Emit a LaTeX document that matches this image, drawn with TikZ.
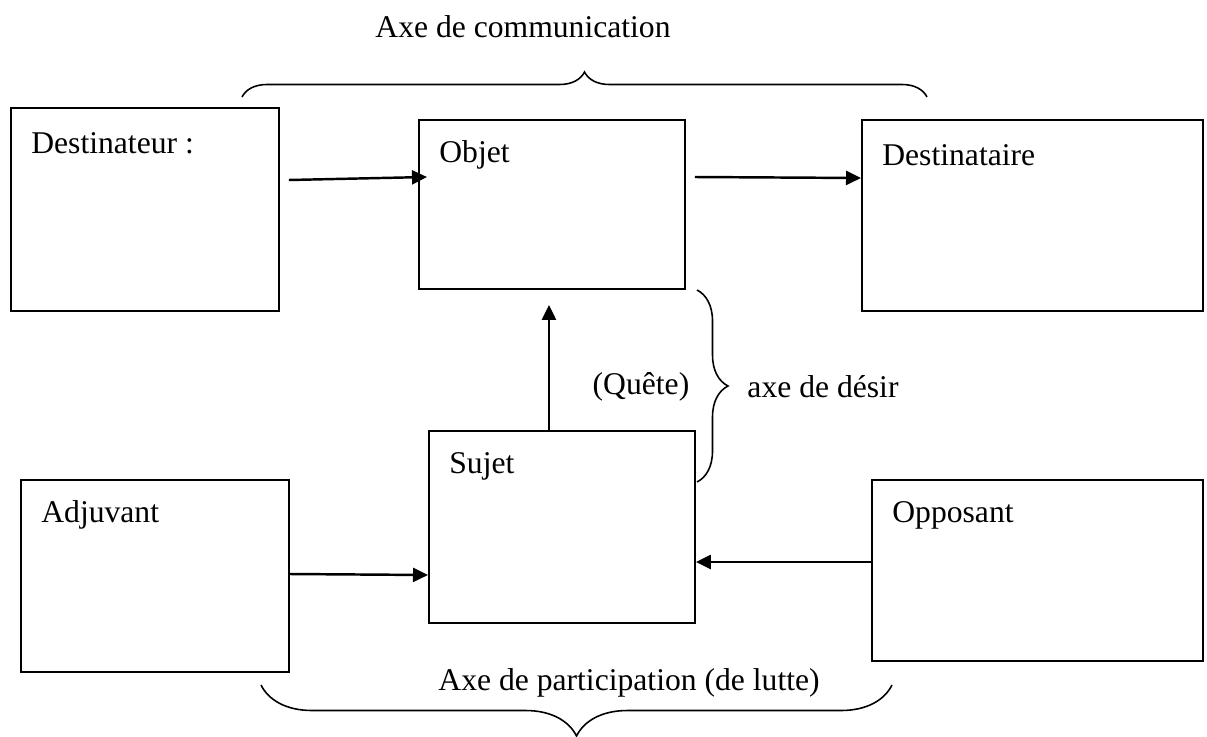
\documentclass[tikz,border=0pt]{standalone}
\usepackage{fontspec}
\setmainfont{Liberation Serif}
\usetikzlibrary{arrows.meta, decorations.pathreplacing}
\tikzset{
    boite/.style={draw, rectangle, line width=1.1pt, anchor=north west, inner sep=0pt},
    titre/.style={anchor=west, inner sep=0pt, xshift=0.42cm, yshift=-0.72cm},
    fleche/.style={-{Triangle[length=0.3cm, width=0.28cm]}, line width=1.4pt},
    accol/.style={decorate, decoration={brace, amplitude=#1}, line width=0.9pt},
}
\begin{document}
\begin{tikzpicture}[
        font=\fontsize{18pt}{22pt}\selectfont,
        ]
        \useasboundingbox (0,0) rectangle (24.14,-14.72);

        \node[boite, minimum width=5.36cm, minimum height=4.06cm, label={[titre]north west:{Destinateur :}}] (dest) at (0.2,-2.14) {};
        \node[boite, minimum width=5.32cm, minimum height=3.38cm, label={[titre]north west:{Objet}}] (objet) at (8.36,-2.38) {};
        \node[boite, minimum width=6.82cm, minimum height=3.82cm, label={[titre]north west:{Destinataire}}] (dtaire) at (17.22,-2.38) {};
        \node[boite, minimum width=5.32cm, minimum height=3.84cm, label={[titre]north west:{Sujet}}] (sujet) at (8.56,-8.6) {};
        \node[boite, minimum width=5.36cm, minimum height=3.84cm, label={[titre]north west:{Adjuvant}}] (adj) at (0.4,-9.58) {};
        \node[boite, minimum width=6.62cm, minimum height=3.62cm, label={[titre]north west:{Opposant}}] (opp) at (17.42,-9.58) {};

        \node (comm) at (10.46,-0.54) {Axe de communication};
        \node (quete) at (12.82,-7.74) {(Quête)};
        \node (desir) at (16.46,-7.74) {axe de désir};
        \node (lutte) at (12.58,-13.66) {Axe de participation (de lutte)};

        \coordinate (ha) at (4.84,-1.94);
        \coordinate (hb) at (18.54,-1.94);
        \coordinate (da) at (13.94,-5.8);
        \coordinate (db) at (13.94,-9.64);
        \coordinate (ba) at (17.84,-13.7);
        \coordinate (bb) at (5.22,-13.7);

        \draw[accol=0.5cm] (ha) -- (hb);
        \draw[accol=0.62cm] (da) -- (db);
        \draw[accol=1.02cm] (ba) -- (bb);

        \draw[fleche] ([shift={(0.18,-1.46)}]dest.north east) -- ([shift={(0.18,-1.16)}]objet.north west);
        \draw[fleche] ([shift={(0.18,-1.16)}]objet.north east) -- ([yshift=-1.18cm]dtaire.north west);
        \draw[fleche] ([xshift=-0.26cm]sujet.north) -- ([shift={(-0.06,-0.3)}]objet.south);
        \draw[fleche] ([yshift=-1.9cm]adj.north east) -- ([yshift=-2.9cm]sujet.north west);
        \draw[fleche] ([yshift=-1.66cm]opp.north west) -- ([yshift=-2.64cm]sujet.north east);
\end{tikzpicture}
\end{document}
